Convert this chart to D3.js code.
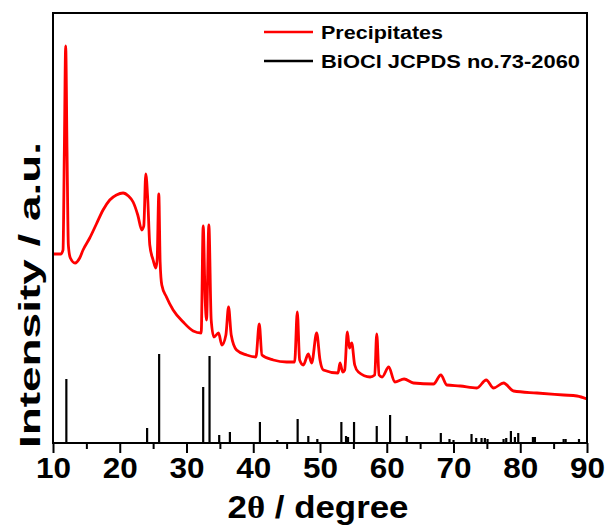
<!DOCTYPE html>
<html>
<head>
<meta charset="utf-8">
<script src="https://cdn.jsdelivr.net/npm/d3@7"></script>
<style>
  body { margin: 0; background: #fff; }
</style>
</head>
<body>
<div id="xrd"></div>
<script>
// measured pattern of the precipitates (2theta in degrees, intensity a.u.)
const angles = [10.0, 11.2, 11.5, 11.7, 11.9, 12.1, 12.3, 12.6, 13.3, 14.0, 14.5, 15.5, 16.5, 17.5, 18.5,
  19.5, 20.5, 21.3, 22.0, 22.7, 23.3, 23.6, 23.9, 24.2, 24.5, 25.0, 25.4, 25.6, 25.85, 26.05,
  26.3, 27.0, 28.0, 29.5, 31.0, 32.2, 32.5, 32.8, 33.0, 33.35, 33.7, 34.1, 34.8, 35.3, 35.9,
  36.3, 36.7, 37.5, 39.0, 40.4, 40.9, 41.3, 43.0, 45.0, 46.2, 46.6, 46.95, 47.5, 48.25, 48.75,
  49.5, 50.0, 50.5, 52.7, 53.0, 53.4, 53.7, 54.1, 54.4, 54.75, 55.2, 55.75, 57.5, 58.2, 58.5,
  58.85, 59.3, 60.3, 61.2, 62.6, 64.0, 67.0, 68.1, 69.0, 71.0, 73.5, 74.9, 76.0, 77.5, 79.0,
  82.5, 86.5, 88.5, 90.0];
const precipitates = [189, 189, 193, 293, 397, 293, 198, 185, 180, 185, 193, 205, 219, 233, 243,
  248, 250, 247, 241, 228, 213, 217, 269, 243, 198, 183, 175, 183, 249, 181,
  158, 146, 133, 121, 112, 110, 217, 143, 123, 218, 123, 106, 110, 98, 108,
  136, 108, 93, 88, 86, 119, 88, 83, 81, 81, 131, 83, 78, 89, 80,
  110, 83, 73, 70, 80, 71, 73, 111, 95, 100, 78, 71, 66, 68, 109,
  68, 66, 76, 61, 64, 60, 59, 68, 58, 57, 55, 63, 55, 60, 52,
  50, 48, 47, 44];

// BiOCl JCPDS no.73-2060 reference lines
const refAngles = [12.0, 24.1, 25.9, 32.5, 33.45, 34.9, 36.5, 41.0, 43.6, 46.65, 48.25, 49.6,
  53.2, 53.9, 54.2, 55.1, 58.5, 60.5, 63.0, 68.1, 69.4, 70.0, 72.7, 73.4, 74.2, 74.7, 75.1,
  77.5, 77.9, 78.6, 79.2, 79.7, 81.9, 82.2, 86.5, 86.8, 88.8];
const refIntensity = [64, 15, 89, 56, 87, 8, 11, 21, 3, 24, 7, 4,
  21, 7, 6, 21, 17, 28, 7, 10, 4, 3, 9, 5, 5, 5, 4,
  4, 5, 12, 6, 10, 6, 6, 4, 4, 4];

const xTicks = [10, 20, 30, 40, 50, 60, 70, 80, 90];
const xMinor = [15, 25, 35, 45, 55, 65, 75, 85];
const legendLabels = ["Precipitates", "BiOCl JCPDS no.73-2060"];
const legendColors = ["#ff0000", "#000000"];

const width = 608, height = 526;
const margin = { top: 13, right: 21, bottom: 83, left: 53 };
const innerW = width - margin.left - margin.right;
const innerH = height - margin.top - margin.bottom;

const x = d3.scaleLinear().domain([10, 90]).range([0, innerW]);
const y = d3.scaleLinear().domain([0, 430]).range([innerH, 0]);

const svg = d3.select("#xrd").append("svg")
  .attr("width", width)
  .attr("height", height)
  .style("font-family", "'Liberation Sans', Arial, sans-serif");

const g = svg.append("g")
  .attr("transform", `translate(${margin.left},${margin.top})`);

// reference sticks
g.selectAll(".stick")
  .data(refAngles.map((a, i) => ({ a, v: refIntensity[i] })))
  .join("line")
  .attr("class", "stick")
  .attr("x1", d => x(d.a)).attr("x2", d => x(d.a))
  .attr("y1", y(0)).attr("y2", d => y(d.v))
  .attr("stroke", "#000")
  .attr("stroke-width", 2.2);

// measured curve
const line = d3.line()
  .x((d, i) => x(angles[i]))
  .y(d => y(d))
  .curve(d3.curveMonotoneX);

g.append("path")
  .datum(precipitates)
  .attr("d", line)
  .attr("fill", "none")
  .attr("stroke", "#ff0000")
  .attr("stroke-width", 2.8)
  .attr("stroke-linejoin", "round");

// frame
g.append("rect")
  .attr("width", innerW).attr("height", innerH)
  .attr("fill", "none")
  .attr("stroke", "#000")
  .attr("stroke-width", 2);

// x axis
const xAxis = g.append("g")
  .attr("transform", `translate(0,${innerH})`)
  .call(d3.axisBottom(x).tickValues(xTicks).tickSize(10).tickPadding(4).tickFormat(d3.format("d")));
xAxis.select(".domain").remove();
xAxis.selectAll(".tick line").attr("stroke-width", 2);
xAxis.selectAll(".tick text")
  .attr("fill", "#000")
  .style("font-size", "30px")
  .style("font-weight", "bold")
  .style("font-family", "'Liberation Sans', Arial, sans-serif")
  .attr("textLength", 35)
  .attr("lengthAdjust", "spacingAndGlyphs");

g.append("g")
  .attr("transform", `translate(0,${innerH})`)
  .call(d3.axisBottom(x).tickValues(xMinor).tickSize(6).tickFormat(""))
  .call(a => a.select(".domain").remove())
  .selectAll(".tick line").attr("stroke-width", 2);

// axis titles
const xTitle = svg.append("text")
  .attr("x", margin.left + innerW / 2 - 2)
  .attr("y", 518)
  .attr("text-anchor", "middle")
  .style("font-size", "31px")
  .style("font-weight", "bold")
  .attr("textLength", 181)
  .attr("lengthAdjust", "spacingAndGlyphs");
xTitle.append("tspan").text("2");
xTitle.append("tspan").style("font-family", "'Liberation Serif', 'Times New Roman', serif").text("θ");
xTitle.append("tspan").text("  / degree");

svg.append("text")
  .attr("transform", "translate(40,295) rotate(-90)")
  .attr("text-anchor", "middle")
  .style("font-size", "30px")
  .style("font-weight", "bold")
  .attr("textLength", 306)
  .attr("lengthAdjust", "spacingAndGlyphs")
  .text("Intensity / a.u.");

// legend
const legend = svg.append("g").attr("transform", "translate(264,32)");
const item = legend.selectAll(".legend-item")
  .data(legendLabels)
  .join("g")
  .attr("class", "legend-item")
  .attr("transform", (d, i) => `translate(0,${i * 29})`);
item.append("line")
  .attr("x1", 0).attr("x2", 49)
  .attr("stroke", (d, i) => legendColors[i])
  .attr("stroke-width", 2.6);
item.append("text")
  .attr("x", 57).attr("y", 7)
  .style("font-size", "18px")
  .style("font-weight", "bold")
  .attr("textLength", (d, i) => [122, 259][i])
  .attr("lengthAdjust", "spacingAndGlyphs")
  .text(d => d);
</script>
</body>
</html>
